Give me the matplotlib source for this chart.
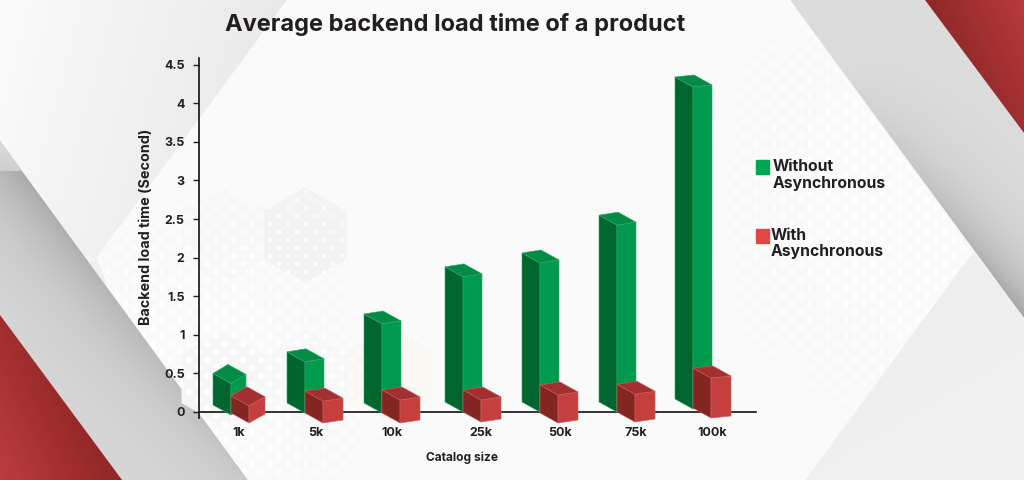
import numpy as np
import matplotlib
matplotlib.use("Agg")
import matplotlib.pyplot as plt
from matplotlib.patches import Polygon, Rectangle, RegularPolygon

plt.rcParams['font.family'] = ['Inter', 'DejaVu Sans']

categories = ['1k', '5k', '10k', '25k', '50k', '75k', '100k']
without_async = [0.50, 0.78, 1.27, 1.88, 2.06, 2.55, 4.34]
with_async = [0.21, 0.27, 0.285, 0.285, 0.35, 0.36, 0.57]
y_ticks = [0, 0.5, 1, 1.5, 2, 2.5, 3, 3.5, 4, 4.5]
y_tick_labels = ['0', '0.5', '1', '1.5', '2', '2.5', '3', '3.5', '4', '4.5']

title = 'Average backend load time of a product'
x_title = 'Catalog size'
y_title = 'Backend load time (Second)'

W, H = 1024, 480
GREEN = ('#00662f', '#009a4e', '#048c46', '#2fa868')
RED = ('#832622', '#c63f3f', '#a33030', '#c9605e')

# per column nudges in pixels, the artwork is not evenly spaced
nudge = [0, -3, -3, 1, 1, 1, 0]
label_nudge = [26, 26, 25, 37, 39, 38, 37]
skew = [9, 3, 3, 3, 3, 3, 2]
green_depth = [15, 19, 19, 19, 19, 19, 19]
red_depth = [16, 20, 20, 20, 20, 20, 20]
green_base = [7, 9, 9, 10, 10, 10, 13]
red_base = [-1, -1, -1, 0, -1, 0, 4]

fig = plt.figure(figsize=(W / 100, H / 100), dpi=100)

# background artwork, in pixels
bg = fig.add_axes([0, 0, 1, 1], zorder=0)
bg.set_xlim(0, W)
bg.set_ylim(H, 0)
bg.axis('off')

xx, yy = np.meshgrid(np.linspace(0, W, 512), np.linspace(0, H, 240))


def paint(points, img, z):
    im = bg.imshow(img, extent=(0, W, H, 0), aspect='auto', zorder=z, interpolation='bilinear')
    im.set_clip_path(Polygon(points, closed=True, transform=bg.transData))


def gradient(points, c0, c1, angle=0.0, z=1):
    pts = np.array(points, dtype=float)
    t = xx * np.cos(np.radians(angle)) + yy * np.sin(np.radians(angle))
    px = pts[:, 0] * np.cos(np.radians(angle)) + pts[:, 1] * np.sin(np.radians(angle))
    t = np.clip((t - px.min()) / (px.max() - px.min()), 0, 1)
    a = np.array(matplotlib.colors.to_rgb(c0))
    b = np.array(matplotlib.colors.to_rgb(c1))
    paint(points, a + (b - a) * t[..., None], z)


def band(points, base, dark, p0, p1, width, fade, z=2):
    # grey band that gets darker close to the edge p0-p1, strongest at p0
    p0 = np.array(p0, dtype=float)
    p1 = np.array(p1, dtype=float)
    u = (p1 - p0) / np.hypot(*(p1 - p0))
    n = np.array([-u[1], u[0]])
    along = np.clip(((xx - p0[0]) * u[0] + (yy - p0[1]) * u[1]) / np.hypot(*(p1 - p0)), 0, 1)
    dist = np.abs((xx - p0[0]) * n[0] + (yy - p0[1]) * n[1])
    amount = np.exp(-dist / width) * (1 - (1 - fade) * along)
    g = base + (dark - base) * amount
    paint(points, np.dstack([g, g, g]), z)


centre = [(287, 0), (790, 0), (973, 252), (805, 480), (248, 480), (108, 288), (97, 257)]
gradient([(0, 0), (W, 0), (W, H), (0, H)], '#f6f6f6', '#f6f6f6', z=0)
gradient([(0, 0), (287, 0), (97, 257), (108, 288), (0, 141)], '#fbfbfb', '#e9e9e9', angle=15, z=1)
band([(0, 141), (248, 480), (0, 480)], 0.85, 0.66, (22, 171), (248, 480), 45, 0.35)
gradient([(0, 141), (22, 171), (0, 171)], '#dcdcdc', '#cfcfcf', angle=90, z=2.2)
band([(790, 0), (925, 0), (1024, 133), (1024, 318)], 0.865, 0.64, (1024, 318), (840, 66), 32, 0.0)
gradient([(973, 252), (1024, 318), (1024, 480), (805, 480)], '#eeeeee', '#f2f2f2', angle=60, z=2)
gradient(centre, '#fafafa', '#fafafa', z=3)
gradient([(0, 315), (122, 480), (0, 480)], '#bd3c3e', '#8f2626', angle=-25, z=4)
gradient([(925, 0), (1024, 0), (1024, 133)], '#8f2828', '#b83a3c', angle=-25, z=4)

for cx, cy, r, col in [(305, 235, 48, '#f3f3f3'), (390, 375, 48, '#fbf8f3'),
                       (223, 235, 48, '#f8f8f8'), (223, 379, 48, '#f6f6f6'),
                       (306, 379, 48, '#f8f8f8')]:
    bg.add_patch(RegularPolygon((cx, cy), 6, radius=r, color=col, zorder=3.5, lw=0))

# white dots over the middle panel, big towards the left and right edges
gx, gy = np.meshgrid(np.arange(90, 980, 18.0), np.arange(0, 480, 8.0))
gx = gx + (np.arange(gx.shape[0])[:, None] % 2) * 9
d1 = np.hypot(gx - 190, gy - 400)
d2 = np.hypot(gx - 920, gy - 200)
sizes = 24 * np.maximum(np.exp(-(d1 / 170) ** 2), np.exp(-(d2 / 190) ** 2)) + 0.8
dots = bg.scatter(gx.ravel(), gy.ravel(), s=sizes.ravel(), c='white', lw=0, zorder=3.6)
dots.set_clip_path(Polygon(centre, closed=True, transform=bg.transData))

# chart, 77 px per column and about 77.2 px per unit
left, right, top, bottom = 198.5, 756, 58, 412
ax = fig.add_axes([left / W, 1 - bottom / H, (right - left) / W, (bottom - top) / H], zorder=1)
ax.patch.set_alpha(0)
PX = 1 / 77.0
PY = 1 / 77.2
ax.set_xlim((left - 213) * PX, (right - 213) * PX)
ax.set_ylim(0, (bottom - top) * PY)


def prism(i, value, base, colors, shift, dx1, dy1, dx2, dy2):
    x = i + (nudge[i] + shift) * PX
    fx, rx = x + dx1 * PX, x + (dx1 + dx2) * PX
    bx = x + dx2 * PX
    y0 = base * PY
    f = dy1 * PY
    s = dy2 * PY
    style = dict(ec=colors[3], lw=0.4, zorder=4, clip_on=False, joinstyle='round')
    ax.add_patch(Polygon([(x, value), (fx, value - f), (fx, y0 - f), (x, y0)], fc=colors[0], **style))
    ax.add_patch(Polygon([(fx, value - f), (rx, value - f + s), (rx, y0 - f + s), (fx, y0 - f)],
                         fc=colors[1], **style))
    ax.add_patch(Polygon([(x, value), (bx, value + s), (rx, value - f + s), (fx, value - f)],
                         fc=colors[2], **style))


for i, v in enumerate(without_async):
    prism(i, v, green_base[i], GREEN, 0, 18, 10, green_depth[i], skew[i])
for i, v in enumerate(with_async):
    prism(i, v, red_base[i], RED, 18, 18, 10, red_depth[i], skew[i])

for s in ['top', 'right']:
    ax.spines[s].set_visible(False)
for s in ['left', 'bottom']:
    ax.spines[s].set_color('#111111')
    ax.spines[s].set_linewidth(1.2)
ax.spines['left'].set_bounds(-6 * PY, (bottom - top) * PY)

ax.set_yticks(y_ticks)
ax.set_yticklabels(y_tick_labels, fontsize=9, fontweight='bold', color='#231f20')
ax.tick_params(axis='y', length=4, width=1, pad=6, color='#222222')
ax.set_xticks([i + label_nudge[i] * PX for i in range(len(categories))])
ax.set_xticklabels(categories, fontsize=9, fontweight='bold', color='#231f20')
ax.tick_params(axis='x', length=0, pad=11)

bg.text(455.5, 24, title, fontsize=17, fontweight='bold', color='#231f20',
        ha='center', va='center', zorder=6)
bg.text(462, 458, x_title, fontsize=8.6, fontweight='bold', color='#231f20',
        ha='center', va='center', zorder=6)
bg.text(146, 227, y_title, fontsize=10.3, fontweight='bold', color='#231f20', rotation=90,
        ha='center', va='center', zorder=6)

bg.add_patch(Rectangle((755.5, 160), 13.5, 14, color='#00a651', zorder=6))
bg.add_patch(Rectangle((755.5, 229), 13.5, 14, color='#e04848', zorder=6))
bg.text(772.5, 175, 'Without\nAsynchronous', fontsize=11.3, fontweight='bold', color='#231f20',
        ha='left', va='center', linespacing=1.15, zorder=6)
bg.text(771, 243.5, 'With\nAsynchronous', fontsize=11.3, fontweight='bold', color='#231f20',
        ha='left', va='center', linespacing=1.15, zorder=6)

fig.savefig('out.png', dpi=100)
